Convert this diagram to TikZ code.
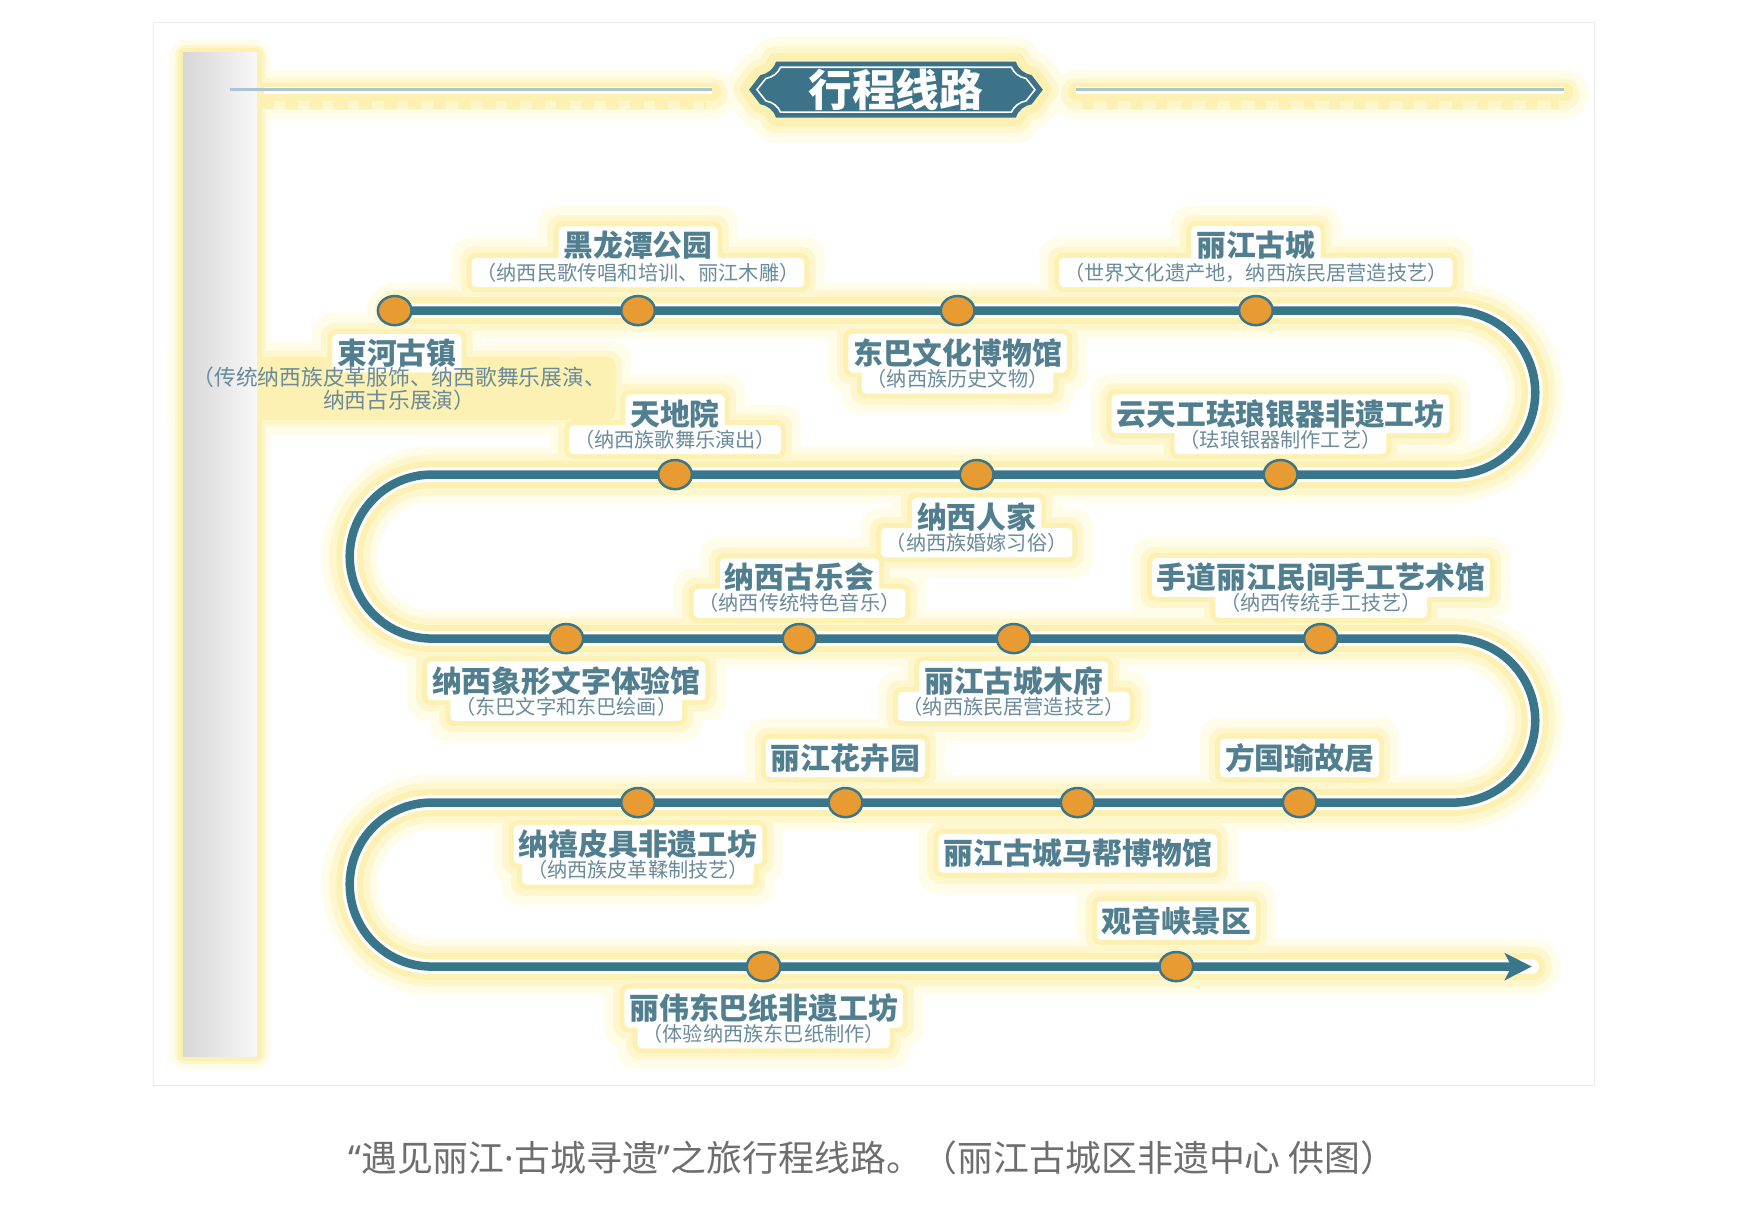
\documentclass[tikz,border=0pt]{standalone}
\usepackage{fontspec}
\newfontfamily\cjk{Noto Sans CJK SC}
\newfontfamily\lat{Noto Sans}
\usetikzlibrary{shapes.geometric,arrows.meta,fit}
\definecolor{routec}{HTML}{3A768A}
\definecolor{dotc}{HTML}{E89B33}
\definecolor{labc}{HTML}{527F90}
\definecolor{subc}{HTML}{6A8B9B}
\definecolor{badgec}{HTML}{3D7388}
\definecolor{linec}{HTML}{A9C6D6}
\definecolor{capc}{HTML}{6E6E6E}
\definecolor{framec}{HTML}{EBEBEB}
\definecolor{g1c}{HTML}{FFFCEA}
\definecolor{g2c}{HTML}{FEF7CE}
\definecolor{g3c}{HTML}{FCF1B3}
\definecolor{barl}{HTML}{D6D6D6}
\definecolor{barr}{HTML}{F8F8F8}
\pgfdeclarelayer{bg}
\pgfdeclarelayer{g1}
\pgfdeclarelayer{g2}
\pgfdeclarelayer{g3}
\pgfdeclarelayer{wh}
\pgfdeclarelayer{rt}
\pgfsetlayers{bg,g1,g2,g3,wh,rt,main}
\newcommand\drawroute[1]{\draw[#1] (d1.center) -- (t1) arc[start angle=90,end angle=-90,radius=73.125] -- (t2) arc[start angle=90,end angle=270,radius=73.125] -- (t3) arc[start angle=90,end angle=-90,radius=73.125] -- (t4) arc[start angle=90,end angle=270,radius=73.125] -- (tend);}
\newcommand\badgeouter[1]{\path[#1] (692,-55) -- (906,-55) .. controls (908,-62) and (914,-66) .. (920,-67) -- (930,-80) -- (920,-93) .. controls (914,-94) and (908,-98) .. (906,-105) -- (692,-105) .. controls (690,-98) and (684,-94) .. (678,-93) -- (668,-80) -- (678,-67) .. controls (684,-66) and (690,-62) .. (692,-55) -- cycle;}
\begin{document}
\begin{tikzpicture}[x=0.5pt,y=0.5pt,
  lab/.style={font=\cjk\bfseries\fontsize{13.3pt}{15pt}\selectfont, text=labc, inner sep=1pt},
  sub/.style={font=\cjk\fontsize{9pt}{10.5pt}\selectfont, text=subc, inner sep=1pt, align=center},
  dot/.style={ellipse, draw=routec, line width=1.1pt, fill=dotc, minimum width=15pt, minimum height=13pt, inner sep=0pt},
  glowA/.style={fill=g1c, rounded corners=8pt, inner sep=10pt, draw=none},
  glowB/.style={fill=g2c, rounded corners=6pt, inner sep=6pt, draw=none},
  glowC/.style={fill=g3c, rounded corners=4pt, inner sep=3.2pt, draw=none},
  glowW/.style={fill=white, rounded corners=2pt, inner sep=1pt, draw=none}]
\useasboundingbox (0,0) rectangle (1566,-1084.2);
\begin{pgfonlayer}{bg}
\fill[white] (0,0) rectangle (1566,-1084.2);
\draw[framec, line width=0.6pt] (137,-20) rectangle (1422,-968);
\end{pgfonlayer}

% turn points of the route
\coordinate (t1) at (1296,-277);
\coordinate (t2) at (385,-423.25);
\coordinate (t3) at (1296,-569.5);
\coordinate (t4) at (385,-715.75);
\coordinate (tend) at (1366,-862);

% stops
\node[dot] (d1) at (352,-277) {};
\node[dot] (d2) at (569,-277) {};
\node[dot] (d3) at (854,-277) {};
\node[dot] (d4) at (1120,-277) {};
\node[dot] (d5) at (602,-423.25) {};
\node[dot] (d6) at (871,-423.25) {};
\node[dot] (d7) at (1142,-423.25) {};
\node[dot] (d8) at (505,-569.5) {};
\node[dot] (d9) at (713,-569.5) {};
\node[dot] (d10) at (904,-569.5) {};
\node[dot] (d11) at (1178,-569.5) {};
\node[dot] (d12) at (569,-715.75) {};
\node[dot] (d13) at (754,-715.75) {};
\node[dot] (d14) at (961,-715.75) {};
\node[dot] (d15) at (1159,-715.75) {};
\node[dot] (d16) at (681,-862) {};
\node[dot] (d17) at (1049,-862) {};

% labels
\node[lab] (l1) at (569,-219) {黑龙潭公园};
\node[sub] (s1) at (569,-243) {（纳西民歌传唱和培训、丽江木雕）};
\node[lab] (l2) at (1120,-219) {丽江古城};
\node[sub] (s2) at (1120,-243) {（世界文化遗产地，纳西族民居营造技艺）};
\node[lab] (l3) at (354,-315) {束河古镇};
\node[sub, font=\cjk\fontsize{9.7pt}{10.2pt}\selectfont] (s3) at (356,-346.5) {（传统纳西族皮革服饰、纳西歌舞乐展演、\\纳西古乐展演）};
\node[lab] (l4) at (854,-315) {东巴文化博物馆};
\node[sub] (s4) at (854,-338) {（纳西族历史文物）};
\node[lab] (l5) at (602,-369) {天地院};
\node[sub] (s5) at (602,-392) {（纳西族歌舞乐演出）};
\node[lab] (l6) at (1142,-369) {云天工珐琅银器非遗工坊};
\node[sub] (s6) at (1142,-392) {（珐琅银器制作工艺）};
\node[lab] (l7) at (871,-461) {纳西人家};
\node[sub] (s7) at (871,-484) {（纳西族婚嫁习俗）};
\node[lab] (l8) at (713,-515) {纳西古乐会};
\node[sub] (s8) at (713,-538) {（纳西传统特色音乐）};
\node[lab] (l9) at (1178,-515) {手道丽江民间手工艺术馆};
\node[sub] (s9) at (1178,-538) {（纳西传统手工技艺）};
\node[lab] (l10) at (505,-607) {纳西象形文字体验馆};
\node[sub] (s10) at (505,-630) {（东巴文字和东巴绘画）};
\node[lab] (l11) at (904,-607) {丽江古城木府};
\node[sub] (s11) at (904,-630) {（纳西族民居营造技艺）};
\node[lab] (l12) at (754,-676) {丽江花卉园};
\node[lab] (l13) at (1159,-676) {方国瑜故居};
\node[lab] (l14) at (569,-753) {纳禧皮具非遗工坊};
\node[sub] (s14) at (569,-776) {（纳西族皮革鞣制技艺）};
\node[lab] (l15) at (961,-761) {丽江古城马帮博物馆};
\node[lab] (l16) at (1049,-821) {观音峡景区};
\node[lab] (l17) at (681,-899) {丽伟东巴纸非遗工坊};
\node[sub] (s17) at (681,-922) {（体验纳西族东巴纸制作）};

% title badge
\badgeouter{fill=badgec}
\draw[white, line width=0.7pt] (696,-60) -- (902,-60) .. controls (904,-65) and (909,-69) .. (915,-70) -- (923,-80) -- (915,-90) .. controls (909,-91) and (904,-95) .. (902,-100) -- (696,-100) .. controls (694,-95) and (689,-91) .. (683,-90) -- (675,-80) -- (683,-70) .. controls (689,-69) and (694,-65) .. (696,-60) -- cycle;
\node[font=\cjk\bfseries\fontsize{19.5pt}{22pt}\selectfont, text=white, inner sep=0pt] (title) at (799,-80) {行程线路};

% top lines
\draw[linec, line width=1.3pt] (205,-80) -- (635,-80);
\draw[linec, line width=1.3pt] (960,-80) -- (1395,-80);

% caption
\node[font=\cjk\fontsize{16pt}{18pt}\selectfont, text=capc, inner sep=0pt] (cap) at (778,-1033) {{\lat“}遇见丽江{\lat·}古城寻遗{\lat”}之旅行程线路。（丽江古城区非遗中心 供图）};

% route
\begin{pgfonlayer}{rt}
\drawroute{draw=routec, line width=3.8pt, -{Stealth[length=12pt,width=12pt,inset=3pt]}}
\end{pgfonlayer}

% glow layers
\begin{pgfonlayer}{g1}
\drawroute{draw=g1c, line width=25pt, line cap=round}
\foreach \n in {l1,s1,l2,s2,l3,s3,l4,s4,l5,s5,l6,s6,l7,s7,l8,s8,l9,s9,l10,s10,l11,s11,l12,l13,l14,s14,l15,l16,l17,s17}
  \node[glowA, fit=(\n)] {};
\fill[g1c, rounded corners=8pt] (151,-35) rectangle (241,-954);
\draw[g1c, line width=22pt, line cap=round] (215,-84) -- (635,-84);
\draw[g1c, line width=22pt, line cap=round] (960,-84) -- (1395,-84);
\badgeouter{draw=g1c, line width=22pt, line join=round}
\end{pgfonlayer}
\begin{pgfonlayer}{g2}
\drawroute{draw=g2c, line width=18pt, line cap=round}
\foreach \n in {l1,s1,l2,s2,l3,s3,l4,s4,l5,s5,l6,s6,l7,s7,l8,s8,l9,s9,l10,s10,l11,s11,l12,l13,l14,s14,l15,l16,l17,s17}
  \node[glowB, fit=(\n)] {};
\fill[g2c, rounded corners=5pt] (156,-40) rectangle (237,-949);
\draw[g2c, line width=14pt, line cap=round] (215,-84) -- (635,-84);
\draw[g2c, line width=14pt, line cap=round] (960,-84) -- (1395,-84);
\badgeouter{draw=g2c, line width=14pt, line join=round}
\end{pgfonlayer}
\begin{pgfonlayer}{g3}
\drawroute{draw=g3c, line width=12pt, line cap=round}
\foreach \n in {l1,s1,l2,s2,l3,s3,l4,s4,l5,s5,l6,s6,l7,s7,l8,s8,l9,s9,l10,s10,l11,s11,l12,l13,l14,s14,l15,l16,l17,s17}
  \node[glowC, fit=(\n)] {};
\fill[g3c, rounded corners=3pt] (159,-43) rectangle (234,-946);
\draw[g3c, line width=8pt, line cap=round] (212,-82) -- (635,-82);
\draw[g3c, line width=8pt, line cap=round] (960,-82) -- (1395,-82);
\draw[g3c, line width=4pt, dash pattern=on 6pt off 5pt] (232,-93) -- (630,-93);
\draw[g3c, line width=4pt, dash pattern=on 5pt off 6pt] (965,-93) -- (1390,-93);
\badgeouter{draw=g3c, line width=8pt, line join=round}
% gray bar
\shade[left color=barl, right color=barr] (163,-47) rectangle (229,-942);
\end{pgfonlayer}
\begin{pgfonlayer}{wh}
\drawroute{draw=white, line width=6.5pt, line cap=round}
\foreach \n in {l1,s1,l2,s2,l3,l4,s4,l5,s5,l6,s6,l7,s7,l8,s8,l9,s9,l10,s10,l11,s11,l12,l13,l14,s14,l15,l16,l17,s17}
  \node[glowW, fit=(\n)] {};
\draw[white, line width=3pt] (235,-81) -- (635,-81);
\draw[white, line width=3pt] (960,-81) -- (1395,-81);
\end{pgfonlayer}
\end{tikzpicture}
\end{document}
